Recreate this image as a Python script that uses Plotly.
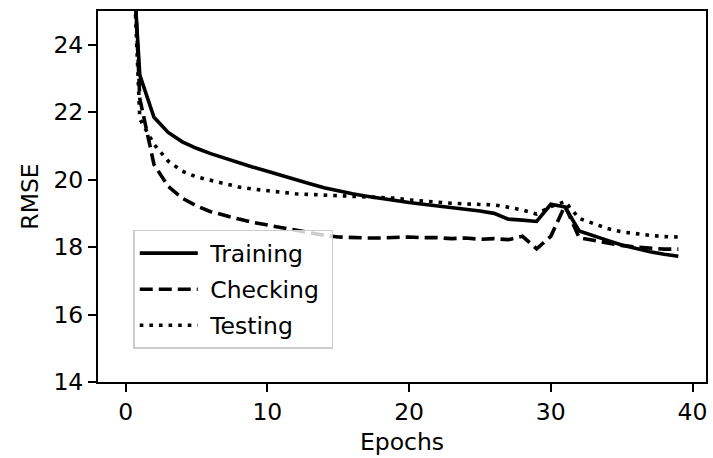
import plotly.graph_objects as go

epochs = list(range(40))
training = [30.0, 23.1, 21.85, 21.4, 21.12, 20.93, 20.77, 20.63, 20.5, 20.37,
            20.25, 20.12, 20.0, 19.88, 19.76, 19.66, 19.58, 19.51, 19.44, 19.38,
            19.32, 19.27, 19.22, 19.17, 19.13, 19.07, 19.0, 18.83, 18.8, 18.76,
            19.27, 19.19, 18.48, 18.33, 18.2, 18.06, 17.95, 17.86, 17.79, 17.73]
checking = [32.0, 22.4, 20.45, 19.8, 19.45, 19.22, 19.05, 18.93, 18.83, 18.73,
            18.65, 18.58, 18.5, 18.42, 18.35, 18.3, 18.28, 18.27, 18.27, 18.28,
            18.3, 18.28, 18.28, 18.25, 18.27, 18.23, 18.25, 18.22, 18.32, 17.95,
            18.32, 19.23, 18.28, 18.2, 18.12, 18.05, 18.0, 17.96, 17.94, 17.94]
testing = [32.0, 21.8, 21.05, 20.55, 20.25, 20.08, 19.98, 19.88, 19.78, 19.72,
           19.67, 19.62, 19.58, 19.56, 19.54, 19.53, 19.52, 19.5, 19.48, 19.45,
           19.4, 19.36, 19.33, 19.3, 19.28, 19.27, 19.25, 19.18, 19.1, 18.98,
           19.2, 19.35, 18.85, 18.7, 18.55, 18.45, 18.39, 18.35, 18.31, 18.3]
series_names = ["Training", "Checking", "Testing"]
x_ticks = [0, 10, 20, 30, 40]
y_ticks = [14, 16, 18, 20, 22, 24]

FONT = "DejaVu Sans"
LW = 3.6
NB = "\u00a0"

fig = go.Figure()
styles = [None, "13px,6px", "3.6px,6px"]
for i, (name, vals) in enumerate(zip(series_names, [training, checking, testing])):
    line = dict(color="black", width=LW)
    if styles[i]:
        line["dash"] = styles[i]
    fig.add_trace(go.Scatter(x=epochs, y=vals, mode="lines", name=NB + name + NB,
                             legendgroup="g%d" % i, line=line))

axis_common = dict(showline=True, linecolor="black", linewidth=2, mirror=True,
                   ticks="outside", ticklen=8, tickwidth=2, tickcolor="black",
                   showgrid=False, zeroline=False,
                   tickfont=dict(family=FONT, size=23.5, color="black"))

fig.update_layout(
    width=713, height=458,
    margin=dict(l=98, r=5, t=11, b=76),
    paper_bgcolor="white", plot_bgcolor="white",
    font=dict(family=FONT, size=23.5, color="black"),
    showlegend=True,
    legend=dict(x=0.058, y=0.41, xanchor="left", yanchor="top",
                bgcolor="rgba(255,255,255,0.8)", bordercolor="#cccccc", borderwidth=1.5,
                font=dict(family=FONT, size=23.5, color="black"),
                itemwidth=58, tracegroupgap=2.5, traceorder="grouped"),
    xaxis=dict(range=[-1.95, 40.95], tickvals=x_ticks,
               title=dict(text="Epochs", font=dict(family=FONT, size=23.5), standoff=8),
               **axis_common),
    yaxis=dict(range=[14, 25], tickvals=y_ticks,
               title=dict(text="RMSE", font=dict(family=FONT, size=23.5), standoff=8),
               **axis_common),
)

fig.write_html("out.html")
